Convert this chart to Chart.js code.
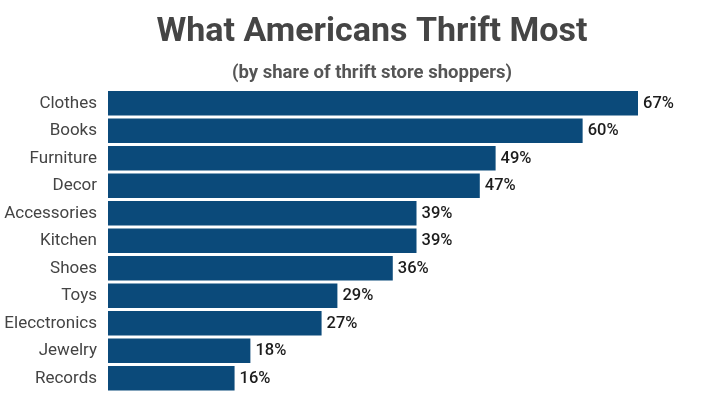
<!DOCTYPE html>
<html lang="en">
<head>
    <meta charset="UTF-8">
    <title>What Americans Thrift Most</title>
    <script src="https://cdn.jsdelivr.net/npm/chart.js"></script>
    <style type="text/css">
        html, body {
            margin: 0;
            padding: 0;
            background: #fff;
            overflow: hidden;
        }
        canvas {
            display: block;
        }
    </style>
</head>
<body>
    <!-- a bit wider than the window so the title sits where the original has it -->
    <canvas id="thriftChart" width="744" height="398"></canvas>

    <script>
        // data
        const categories = ['Clothes', 'Books', 'Furniture', 'Decor', 'Accessories', 'Kitchen', 'Shoes', 'Toys', 'Elecctronics', 'Jewelry', 'Records'];
        const shares = [67, 60, 49, 47, 39, 39, 36, 29, 27, 18, 16];

        // writes "67%" etc just right of each bar
        const valueLabels = {
            id: 'valueLabels',
            afterDatasetsDraw(chart) {
                const ctx = chart.ctx;
                const meta = chart.getDatasetMeta(0);
                ctx.save();
                ctx.font = '500 16.5px Roboto';
                ctx.fillStyle = '#1c1c1c';
                ctx.textAlign = 'left';
                ctx.textBaseline = 'middle';
                meta.data.forEach(function(bar, i) {
                    ctx.fillText(shares[i] + '%', bar.x + 5, bar.y + 0.5);
                });
                ctx.restore();
            }
        };

        const config = {
            type: 'bar',
            data: {
                labels: categories,
                datasets: [{
                    data: shares,
                    backgroundColor: '#0b4a7a',
                    borderWidth: 0,
                    barPercentage: 0.89,
                    categoryPercentage: 1
                }]
            },
            options: {
                indexAxis: 'y',
                responsive: false,
                animation: false,
                events: [],
                layout: {
                    padding: { left: 0, right: 0, top: 12.5, bottom: 6 }
                },
                plugins: {
                    legend: { display: false },
                    tooltip: { enabled: false },
                    title: {
                        display: true,
                        text: 'What Americans Thrift Most',
                        color: '#454545',
                        font: { family: 'Roboto', size: 34, weight: 'bold' },
                        padding: { top: 0, bottom: 8.5 }
                    },
                    subtitle: {
                        display: true,
                        text: '(by share of thrift store shoppers)',
                        color: '#555',
                        font: { family: 'Roboto', size: 18.5, weight: 'bold' },
                        padding: { top: 0, bottom: 5.5 }
                    }
                },
                scales: {
                    x: {
                        display: false,
                        min: 0,
                        max: 80.4
                    },
                    y: {
                        grid: { display: false, drawTicks: false },
                        border: { display: false },
                        ticks: {
                            color: '#444',
                            padding: 11,
                            font: { family: 'Roboto', size: 17 }
                        },
                        afterFit: function(scale) {
                            scale.width = 108;
                            // no extra room for the end labels, bars fill the height
                            scale.paddingTop = 0;
                            scale.paddingBottom = 0;
                        }
                    }
                }
            },
            plugins: [valueLabels]
        };

        new Chart(document.getElementById('thriftChart'), config);
    </script>
</body>
</html>
